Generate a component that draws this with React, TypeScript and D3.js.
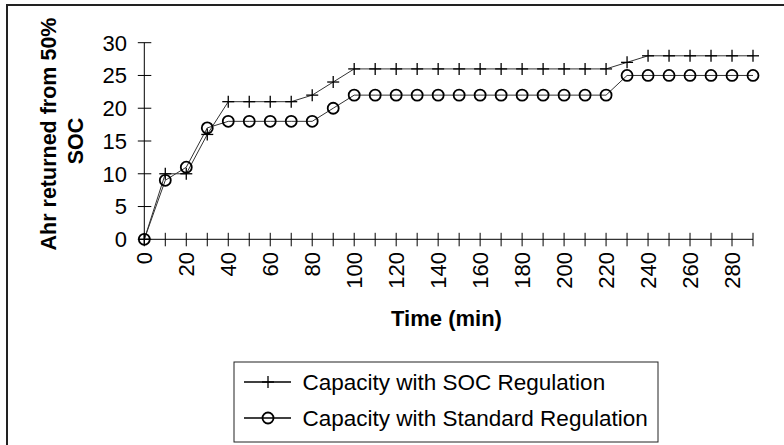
import React from "react";
import * as d3 from "d3";

const times = [0,10,20,30,40,50,60,70,80,90,100,110,120,130,140,150,160,170,180,190,200,210,220,230,240,250,260,270,280,290];
const socReg = [0,10,10,16,21,21,21,21,22,24,26,26,26,26,26,26,26,26,26,26,26,26,26,27,28,28,28,28,28,28];
const stdReg = [0,9,11,17,18,18,18,18,18,20,22,22,22,22,22,22,22,22,22,22,22,22,22,25,25,25,25,25,25,25];
const yTicks = [0,5,10,15,20,25,30];
const xLabels = [0,20,40,60,80,100,120,140,160,180,200,220,240,260,280];
const seriesNames = ["Capacity with SOC Regulation", "Capacity with Standard Regulation"];

const FONT = "'Liberation Sans', Arial, sans-serif";

export default function App() {
  const x = d3.scaleLinear().domain([0, 290]).range([144.3, 753]);
  const y = d3.scaleLinear().domain([0, 30]).range([239.3, 42.7]);
  const line = d3.line<number>().x((_, i) => x(times[i])).y((d) => y(d));

  const plus = (cx: number, cy: number, k: string) => (
    <g key={k} stroke="#000" strokeWidth={1.3}>
      <line x1={cx - 6} x2={cx + 6} y1={cy} y2={cy} />
      <line x1={cx} x2={cx} y1={cy - 6} y2={cy + 6} />
    </g>
  );
  const circ = (cx: number, cy: number, k: string) => (
    <circle key={k} cx={cx} cy={cy} r={5.5} fill="none" stroke="#000" strokeWidth={1.8} />
  );

  return (
    <svg width={784} height={445} style={{ position: "absolute", left: 0, top: 0 }}>
      <rect x={0} y={0} width={784} height={445} fill="#fff" />
      <rect x={7} y={5} width={790} height={460} fill="none" stroke="#222" strokeWidth={2} />

      {/* y axis title */}
      <text transform="translate(56,134) rotate(-90)" textAnchor="middle" fontFamily={FONT} fontWeight="bold" fontSize={21.5}>
        Ahr returned from 50%
      </text>
      <text transform="translate(83,141) rotate(-90)" textAnchor="middle" fontFamily={FONT} fontWeight="bold" fontSize={21.5}>
        SOC
      </text>

      {/* y axis */}
      <line x1={x(0)} x2={x(0)} y1={y(0)} y2={y(30)} stroke="#000" strokeWidth={1} />
      {yTicks.map((t) => (
        <g key={"y" + t}>
          <line x1={x(0) - 6.5} x2={x(0) + 7} y1={y(t)} y2={y(t)} stroke="#000" strokeWidth={1} />
          <text x={127} y={y(t)} dy="0.36em" textAnchor="end" fontFamily={FONT} fontSize={22}>{t}</text>
        </g>
      ))}

      {/* x axis */}
      <line x1={x(0)} x2={x(290)} y1={y(0)} y2={y(0)} stroke="#000" strokeWidth={1} />
      {times.map((t) => (
        <line key={"xt" + t} x1={x(t)} x2={x(t)} y1={y(0) - 6.5} y2={y(0) + 7} stroke="#000" strokeWidth={1} />
      ))}
      {xLabels.map((t) => (
        <text key={"xl" + t} transform={`translate(${x(t)},252) rotate(-90)`} dy="0.36em" textAnchor="end" fontFamily={FONT} fontSize={22}>{t}</text>
      ))}
      <text x={446.5} y={326} textAnchor="middle" fontFamily={FONT} fontWeight="bold" fontSize={22}>Time (min)</text>

      {/* series */}
      <path d={line(socReg) || ""} fill="none" stroke="#333" strokeWidth={1} />
      <path d={line(stdReg) || ""} fill="none" stroke="#333" strokeWidth={1} />
      {socReg.map((v, i) => plus(x(times[i]), y(v), "p" + i))}
      {stdReg.map((v, i) => circ(x(times[i]), y(v), "c" + i))}

      {/* legend */}
      <rect x={234} y={362} width={424} height={80} fill="#fff" stroke="#222" strokeWidth={1} />
      <line x1={244} x2={291} y1={382} y2={382} stroke="#000" strokeWidth={1.3} />
      {plus(268, 382, "lp")}
      <text x={302.5} y={382} dy="0.36em" fontFamily={FONT} fontSize={22.5}>{seriesNames[0]}</text>
      <line x1={244} x2={291} y1={418} y2={418} stroke="#000" strokeWidth={1.3} />
      {circ(268, 418, "lc")}
      <text x={302.5} y={418} dy="0.36em" fontFamily={FONT} fontSize={22.5}>{seriesNames[1]}</text>
    </svg>
  );
}
